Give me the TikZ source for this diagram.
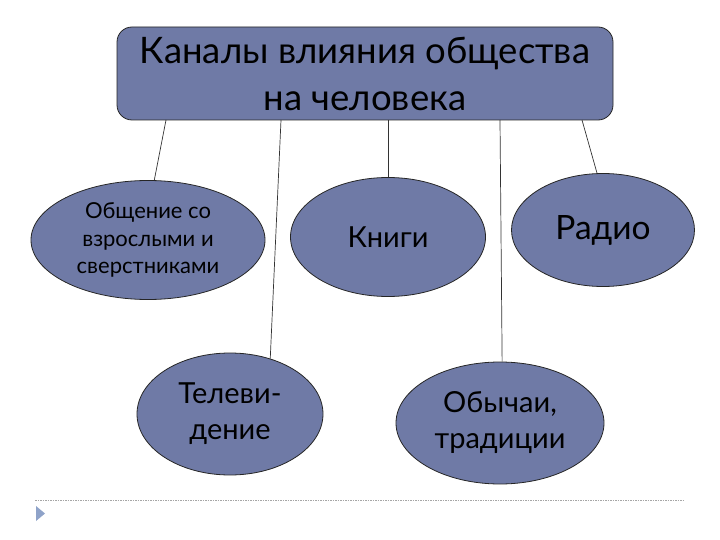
\documentclass[tikz,border=0pt]{standalone}
\usepackage{fontspec}
\setmainfont{Lato}
\usetikzlibrary{shapes.geometric}
\definecolor{boxfill}{RGB}{111,122,166}
\definecolor{tri}{RGB}{143,163,201}
\tikzset{
  oval/.style={ellipse, draw=black!85, line width=0.8pt, fill=boxfill, inner sep=0pt, align=center},
  conn/.style={draw=black!80, line width=0.7pt}
}
\begin{document}
\begin{tikzpicture}[x=1pt,y=-1pt]
\useasboundingbox (0,0) rectangle (720,540);
\node[draw=black!85, line width=0.8pt, fill=boxfill, rounded corners=15pt, minimum width=496pt, minimum height=93pt, align=center, font=\fontsize{36.5}{47}\selectfont, inner sep=0pt] (top) at (365,73.5) {Каналы влияния общества\\на человека};
\node[oval, minimum width=234pt, minimum height=119pt, font=\fontsize{22}{27.5}\selectfont] (e1) at (148,240) {Общение со\\взрослыми и\\сверстниками};
\node[oval, minimum width=195pt, minimum height=119pt, font=\fontsize{29}{30}\selectfont] (e2) at (388,237) {Книги};
\node[oval, minimum width=183pt, minimum height=113pt, font=\fontsize{33.5}{34}\selectfont] (e3) at (603,230) {Радио};
\node[oval, minimum width=186pt, minimum height=122pt, font=\fontsize{29}{36}\selectfont] (e4) at (230,414) {Телеви-\\дение};
\node[oval, minimum width=208pt, minimum height=122pt, font=\fontsize{29}{36}\selectfont] (e5) at (500,423) {Обычаи,\\традиции};
\coordinate (t1) at (166,120);
\coordinate (t2) at (281,120);
\coordinate (t3) at (388,120);
\coordinate (t4) at (500,120);
\coordinate (t5) at (582,120);
\draw[conn] (t1) -- (e1.84);
\draw[conn] (t2) -- (e4.54);
\draw[conn] (t3) -- (e2.north);
\draw[conn] (t4) -- (e5.88);
\draw[conn] (t5) -- (e3.96);
\coordinate (d1) at (35,500);
\coordinate (d2) at (685,500);
\draw[gray!70, line width=0.8pt, dash pattern=on 1.5pt off 1pt] (d1) -- (d2);
\fill[tri] (36,506) -- (45,513.5) -- (36,521) -- cycle;
\end{tikzpicture}
\end{document}
